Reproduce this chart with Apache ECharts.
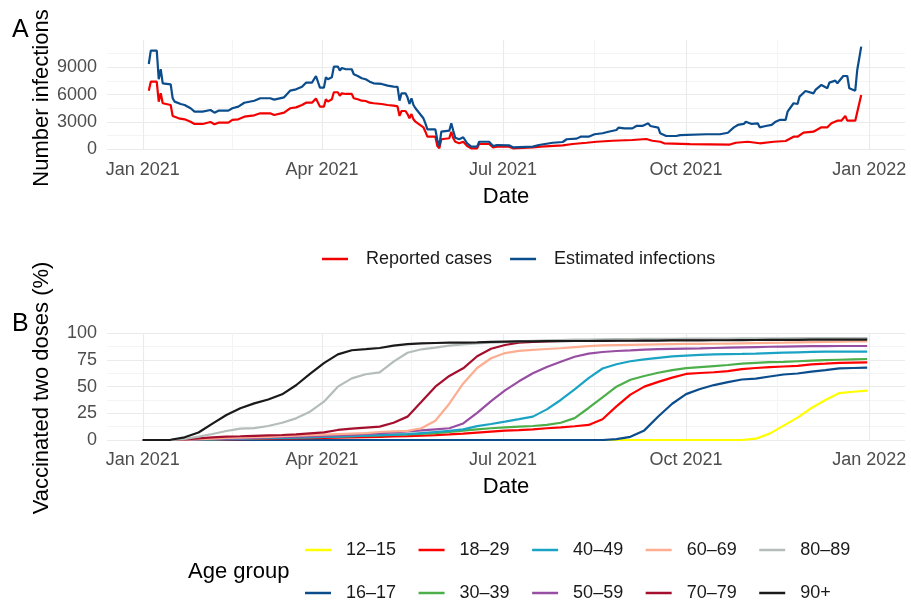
<!DOCTYPE html>
<html><head><meta charset="utf-8">
<script src="https://cdn.jsdelivr.net/npm/echarts@6/dist/echarts.min.js"></script>
<style>html,body{margin:0;padding:0;background:#fff}#c{width:911px;height:602px}</style>
</head><body><div id="c"></div>
<script>
// ---------- Panel A data ----------
const reportedDates = ['2021-01-04','2021-01-05','2021-01-08','2021-01-09','2021-01-10','2021-01-11','2021-01-12','2021-01-15','2021-01-16','2021-01-19','2021-01-22','2021-01-25','2021-01-27','2021-01-31','2021-02-01','2021-02-04','2021-02-06','2021-02-08','2021-02-13','2021-02-15','2021-02-18','2021-02-21','2021-02-26','2021-03-01','2021-03-06','2021-03-08','2021-03-09','2021-03-13','2021-03-16','2021-03-19','2021-03-22','2021-03-24','2021-03-27','2021-03-29','2021-03-30','2021-03-31','2021-04-02','2021-04-03','2021-04-04','2021-04-06','2021-04-07','2021-04-09','2021-04-10','2021-04-11','2021-04-13','2021-04-16','2021-04-17','2021-04-19','2021-04-21','2021-04-23','2021-04-25','2021-04-27','2021-05-01','2021-05-04','2021-05-07','2021-05-09','2021-05-10','2021-05-11','2021-05-13','2021-05-14','2021-05-15','2021-05-16','2021-05-17','2021-05-18','2021-05-19','2021-05-22','2021-05-23','2021-05-24','2021-05-28','2021-05-29','2021-05-30','2021-05-31','2021-06-04','2021-06-05','2021-06-06','2021-06-07','2021-06-09','2021-06-11','2021-06-13','2021-06-15','2021-06-18','2021-06-19','2021-06-24','2021-06-26','2021-06-28','2021-07-04','2021-07-06','2021-07-16','2021-07-20','2021-07-31','2021-08-05','2021-08-12','2021-08-17','2021-08-25','2021-09-04','2021-09-11','2021-09-14','2021-09-18','2021-09-20','2021-10-03','2021-10-23','2021-10-26','2021-11-01','2021-11-07','2021-11-14','2021-11-20','2021-11-21','2021-11-24','2021-11-26','2021-11-29','2021-12-04','2021-12-08','2021-12-11','2021-12-13','2021-12-16','2021-12-18','2021-12-20','2021-12-21','2021-12-25','2021-12-28'];
const reportedValues = [6430,7420,7420,5230,6140,5050,4860,4860,3660,3400,3290,3030,2780,2780,2920,2990,2740,2920,2920,3220,3290,3580,3730,3950,3950,3760,3950,4020,4500,4600,4860,5110,5110,5560,5600,4680,4680,5490,5230,5490,6260,6260,5880,6140,6070,6070,5600,5490,5330,5300,5110,5050,4970,4860,4790,4700,3660,4200,4200,3870,3400,3870,3290,3030,2920,2410,1930,1380,1380,360,110,1100,1210,1930,1210,830,660,830,360,110,110,580,580,220,290,290,110,220,290,440,580,720,830,940,1020,1130,940,830,660,560,520,720,830,660,830,910,1020,1380,1380,1820,1930,2410,2410,2850,3140,3140,3660,3140,3140,5960];

const estimatedDates = ['2021-01-04','2021-01-05','2021-01-08','2021-01-09','2021-01-10','2021-01-11','2021-01-12','2021-01-15','2021-01-16','2021-01-17','2021-01-20','2021-01-22','2021-01-25','2021-01-27','2021-01-31','2021-02-01','2021-02-04','2021-02-06','2021-02-08','2021-02-13','2021-02-15','2021-02-18','2021-02-21','2021-02-26','2021-03-01','2021-03-06','2021-03-08','2021-03-09','2021-03-13','2021-03-16','2021-03-19','2021-03-22','2021-03-24','2021-03-27','2021-03-29','2021-03-30','2021-03-31','2021-04-02','2021-04-03','2021-04-04','2021-04-06','2021-04-07','2021-04-09','2021-04-10','2021-04-11','2021-04-13','2021-04-16','2021-04-17','2021-04-19','2021-04-21','2021-04-23','2021-04-25','2021-04-27','2021-05-01','2021-05-04','2021-05-07','2021-05-09','2021-05-10','2021-05-11','2021-05-13','2021-05-14','2021-05-15','2021-05-16','2021-05-17','2021-05-18','2021-05-19','2021-05-22','2021-05-23','2021-05-24','2021-05-28','2021-05-29','2021-05-30','2021-05-31','2021-06-04','2021-06-05','2021-06-06','2021-06-07','2021-06-09','2021-06-11','2021-06-13','2021-06-15','2021-06-18','2021-06-19','2021-06-24','2021-06-26','2021-06-28','2021-07-04','2021-07-06','2021-07-16','2021-07-19','2021-07-26','2021-07-31','2021-08-02','2021-08-07','2021-08-09','2021-08-13','2021-08-16','2021-08-20','2021-08-23','2021-08-27','2021-08-28','2021-08-31','2021-09-04','2021-09-06','2021-09-09','2021-09-12','2021-09-13','2021-09-17','2021-09-18','2021-09-21','2021-09-26','2021-09-28','2021-10-11','2021-10-18','2021-10-22','2021-10-25','2021-10-27','2021-10-30','2021-10-31','2021-11-03','2021-11-06','2021-11-07','2021-11-10','2021-11-13','2021-11-15','2021-11-17','2021-11-20','2021-11-21','2021-11-24','2021-11-26','2021-11-27','2021-11-30','2021-12-04','2021-12-05','2021-12-08','2021-12-11','2021-12-12','2021-12-15','2021-12-16','2021-12-19','2021-12-21','2021-12-22','2021-12-25','2021-12-26','2021-12-28'];
const estimatedValues = [9360,10820,10820,7680,8780,7240,7130,7130,5600,5230,4970,4860,4500,4130,4130,4240,4310,4020,4240,4240,4500,4680,5110,5330,5600,5600,5450,5600,5700,6430,6580,6870,7310,7310,8040,8150,6760,6760,7900,7680,7900,9070,9070,8630,8920,8780,8780,8230,8040,7790,7680,7420,7240,7170,6980,6870,6850,5330,6140,6140,5700,4970,5600,4860,4500,4310,3400,2850,2190,2190,1020,360,1930,2040,2850,2040,1270,1100,1320,660,290,290,830,830,360,470,440,220,290,470,720,800,1100,1170,1380,1380,1650,1760,1930,2120,2370,2300,2300,2560,2560,2850,2560,2370,1760,1460,1460,1560,1650,1650,1820,2410,2670,2780,3030,2780,2850,2410,2560,2670,3030,3220,3220,4130,5050,4970,5780,6400,6140,6510,7060,6700,7310,7530,7240,8040,8040,6700,6430,8700,11260];

// ---------- Panel B data (weekly) ----------
const weekDates = ['2021-01-01','2021-01-08','2021-01-15','2021-01-22','2021-01-29','2021-02-05','2021-02-12','2021-02-19','2021-02-26','2021-03-05','2021-03-12','2021-03-19','2021-03-26','2021-04-02','2021-04-09','2021-04-16','2021-04-23','2021-04-30','2021-05-07','2021-05-14','2021-05-21','2021-05-28','2021-06-04','2021-06-11','2021-06-18','2021-06-25','2021-07-02','2021-07-09','2021-07-16','2021-07-23','2021-07-30','2021-08-06','2021-08-13','2021-08-20','2021-08-27','2021-09-03','2021-09-10','2021-09-17','2021-09-24','2021-10-01','2021-10-08','2021-10-15','2021-10-22','2021-10-29','2021-11-05','2021-11-12','2021-11-19','2021-11-26','2021-12-03','2021-12-10','2021-12-17','2021-12-24','2021-12-31'];
const age12_15 = [0,0,0,0,0,0,0,0,0,0,0,0,0,0,0,0,0,0,0,0,0,0,0,0,0,0,0,0,0,0,0,0,0,0,0,0,0,0,0,0,0,0,0,0,1.2,6,13.5,21,30,37.5,44,45.2,46.2];
const age16_17 = [0,0,0,0,0,0,0,0,0,0,0,0,0,0,0,0,0,0,0,0,0,0,0,0,0,0,0,0,0,0,0,0,0,0,0.8,3,9,22,34,43,47.8,51.5,54.3,56.7,57.6,59.5,61.4,62.3,64,65.5,67.2,67.5,67.8];
const age18_29 = [0,0,0,0,0.2,0.4,0.6,0.8,1,1.2,1.4,1.6,1.8,2,2.2,2.4,2.7,3,3.3,3.6,4,4.5,5.2,6,6.9,7.8,8.7,9.3,10,11,11.9,12.9,14.1,19.5,31.5,42.5,50,54.5,58.5,61.9,62.8,63.5,64.5,66.5,67.5,68.3,68.9,69.5,70.9,71.5,72.2,72.6,72.8];
const age30_39 = [0,0,0,0.1,0.3,0.6,1,1.4,1.7,2,2.2,2.4,2.7,3,3.3,3.6,4,4.4,4.8,5.2,5.8,6.5,7.5,8.8,10,11,11.9,12.5,13.1,14.2,16.2,20.5,30,40,50,56.5,60,63,65.5,67.3,68.3,69.3,70.3,71.6,72.3,72.9,73.3,73.8,74.3,74.8,75.2,75.6,75.9];
const age40_49 = [0,0,0,0.1,0.3,0.5,0.8,1.1,1.5,1.7,1.9,2.1,2.5,2.8,3.1,3.5,4,4.5,5,5.5,6.5,7.5,8.5,10,13,15,17.2,19.5,21.9,28.7,37.5,47.5,58,67,71,73.8,75.5,77,78.3,79,79.7,80.3,80.5,80.7,81,81.5,81.9,82.2,82.5,82.8,82.8,82.9,82.9];
const age50_59 = [0,0,0,0.2,0.5,1,1.3,1.6,2,2.4,2.8,3.1,3.5,4,4.5,5,5.8,6.5,7.2,8,9,10,11,15.5,25.5,36.5,46.5,55,62.5,68.5,73.4,78,81,82.5,83.4,84,84.7,85.1,85.4,85.6,85.8,86.2,86.5,86.8,87.1,87.4,87.6,87.8,87.9,88,88.1,88.1,88.1];
const age60_69 = [0,0,0,0.3,0.7,1.2,2,2.3,2.6,2.9,3.5,4,4.5,5,5.5,6,6.5,7.5,8,8.5,11,18,34,53,67.5,76.6,81.5,83.5,84.5,85.3,86,87,88,88.6,89,89.2,89.4,89.6,89.8,90,90.1,90.2,90.4,90.6,90.8,91,91.2,91.5,91.8,92,92.2,92.4,92.5];
const age70_79 = [0,0,0,0.5,1.5,2.5,3.2,3.5,3.9,4.3,4.7,5.2,6.2,7.2,9.4,10.6,11.6,12.5,16.2,21.9,35.9,50,60,67.2,78.5,85.5,89,91.2,92,92.4,92.8,93,93.1,93.2,93.3,93.5,93.6,93.7,93.8,93.9,94,94.1,94.2,94.3,94.4,94.5,94.6,94.7,94.8,94.9,95,95,95];
const age80_89 = [0,0,0,0.9,3.1,5.6,8.4,10.6,11.2,13.1,16.2,20.3,26.5,35.9,50,57.8,61.6,63.4,73.4,81.8,85,86.5,88.4,89.7,90.6,91.2,91.8,92.5,93,93.4,93.7,94,94.2,94.4,94.5,94.6,94.7,94.8,94.9,95,95,95.1,95.1,95.2,95.2,95.3,95.3,95.3,95.4,95.4,95.4,95.5,95.5];
const age90plus = [0,0,0.2,2.5,7,15.4,23.4,29.8,34.3,38,42.8,51.3,62,72,80.3,84.1,85.1,86.2,88.5,89.8,90.5,90.9,91.2,91.3,91.5,92,92.2,92.4,92.5,92.6,92.7,92.8,92.8,92.9,93,93,93.1,93.2,93.3,93.3,93.4,93.5,93.5,93.6,93.7,93.8,93.8,93.9,94,94,94,94,94];

const ageGroups = ['12–15','16–17','18–29','30–39','40–49','50–59','60–69','70–79','80–89','90+'];
const ageSeries = [age12_15,age16_17,age18_29,age30_39,age40_49,age50_59,age60_69,age70_79,age80_89,age90plus];
const ageColors = ['#FFFF00','#0B4C8C','#FF0000','#4DAF4A','#1AA3C4','#984EA3','#FDAE91','#A50F2E','#B4BDBA','#1A1A1A'];

// ---------- Axis ticks ----------
const xMajorTicks = ['2021-01-01','2021-04-01','2021-07-01','2021-10-01','2022-01-01'];
const xMinorTicks = ['2021-02-15','2021-05-16','2021-08-16','2021-11-16'];
const monthNames = ['Jan','Feb','Mar','Apr','May','Jun','Jul','Aug','Sep','Oct','Nov','Dec'];

// daily category domain (Dec 14 2020 .. Jan 19 2022)
const days = [];
for (let t = Date.UTC(2020,11,14); t <= Date.UTC(2022,0,19); t += 86400000) {
  days.push(new Date(t).toISOString().slice(0,10));
}

const FONT = 'Liberation Sans, Arial, sans-serif';
const MAJ = '#EBEBEB', MIN = '#F4F4F4';

function xAxis(gridIndex, margin) {
  return {
    type: 'category', gridIndex, data: days, boundaryGap: false,
    axisLine: {show: false}, axisTick: {show: false},
    axisLabel: {
      interval: (i, v) => xMajorTicks.includes(v),
      formatter: v => monthNames[+v.slice(5,7)-1] + ' ' + v.slice(0,4),
      color: '#4D4D4D', fontSize: 18, fontFamily: FONT, margin
    },
    splitLine: {show: true, interval: (i, v) => xMajorTicks.includes(v) || xMinorTicks.includes(v),
      lineStyle: {color: [MAJ, MIN], width: 1.1}}
  };
}

const chart = echarts.init(document.getElementById('c'), null, {renderer: 'canvas'});
const series = [
  {name: 'Reported cases', type: 'line', xAxisIndex: 0, yAxisIndex: 0, showSymbol: false,
   data: reportedDates.map((d, i) => [d, reportedValues[i]]),
   lineStyle: {color: '#F20000', width: 2.2}, itemStyle: {color: '#F20000'}},
  {name: 'Estimated infections', type: 'line', xAxisIndex: 0, yAxisIndex: 0, showSymbol: false,
   data: estimatedDates.map((d, i) => [d, estimatedValues[i]]),
   lineStyle: {color: '#0B4C8C', width: 2.2}, itemStyle: {color: '#0B4C8C'}}
];
ageGroups.forEach((g, k) => {
  series.push({name: g, type: 'line', xAxisIndex: 1, yAxisIndex: 1, showSymbol: false,
    data: weekDates.map((d, i) => [d, ageSeries[k][i]]),
    lineStyle: {color: ageColors[k], width: 2.2}, itemStyle: {color: ageColors[k]}});
});

function legend(data, left, top, gap, pad) {
  return {data, left, top, orient: 'horizontal', icon: 'rect', itemWidth: 26, itemHeight: 2.5,
    itemGap: gap, formatter: '{g|}{name}', selectedMode: false, padding: 0,
    textStyle: {fontSize: 18, color: '#1A1A1A', fontFamily: FONT, rich: {g: {width: pad}}}};
}

chart.setOption({
  animation: false,
  backgroundColor: '#fff',
  textStyle: {fontFamily: FONT},
  grid: [
    {left: 107, width: 798, top: 39.9, height: 109.4},
    {left: 107, width: 798, top: 333.3, height: 106.7}
  ],
  xAxis: [xAxis(0, 12), xAxis(1, 11)],
  yAxis: [
    {type: 'value', gridIndex: 0, min: 0, max: 12000, interval: 1500,
     axisLine: {show: false}, axisTick: {show: false},
     axisLabel: {formatter: v => (v % 3000 === 0 && v < 12000) ? String(v) : '', color: '#4D4D4D', fontSize: 18, fontFamily: FONT, margin: 10},
     splitLine: {lineStyle: {color: [MAJ, MIN, MAJ, MIN, MAJ, MIN, MAJ, MIN, 'rgba(0,0,0,0)'], width: 1.1}}},
    {type: 'value', gridIndex: 1, min: 0, max: 100, interval: 12.5,
     axisLine: {show: false}, axisTick: {show: false},
     axisLabel: {formatter: v => (v % 25 === 0) ? String(v) : '', color: '#4D4D4D', fontSize: 18, fontFamily: FONT, margin: 10},
     splitLine: {lineStyle: {color: [MAJ, MIN], width: 1.1}}}
  ],
  legend: [
    legend(['Reported cases', 'Estimated infections'], 322, 250, 18, 13),
    legend(['12–15', '18–29', '40–49', '60–69', '80–89'], 305, 541, 22.5, 10),
    legend(['16–17', '30–39', '50–59', '70–79', '90+'], 305, 584, 22.5, 10)
  ],
  graphic: [
    {type: 'text', left: 12, top: 18, style: {text: 'A', fontSize: 25, fill: '#000', fontFamily: FONT}},
    {type: 'text', left: 12, top: 312, style: {text: 'B', fontSize: 25, fill: '#000', fontFamily: FONT}},
    {type: 'text', x: 42, y: 98, rotation: Math.PI / 2, style: {text: 'Number infections', fontSize: 22, fill: '#000', fontFamily: FONT, align: 'center', verticalAlign: 'middle'}},
    {type: 'text', x: 42, y: 388, rotation: Math.PI / 2, style: {text: 'Vaccinated two doses (%)', fontSize: 22, fill: '#000', fontFamily: FONT, align: 'center', verticalAlign: 'middle'}},
    {type: 'text', x: 506, y: 197, style: {text: 'Date', fontSize: 22, fill: '#000', fontFamily: FONT, align: 'center', verticalAlign: 'middle'}},
    {type: 'text', x: 506, y: 487, style: {text: 'Date', fontSize: 22, fill: '#000', fontFamily: FONT, align: 'center', verticalAlign: 'middle'}},
    {type: 'text', x: 188, y: 572, style: {text: 'Age group', fontSize: 22, fill: '#000', fontFamily: FONT, align: 'left', verticalAlign: 'middle'}}
  ],
  series
});
</script></body></html>
